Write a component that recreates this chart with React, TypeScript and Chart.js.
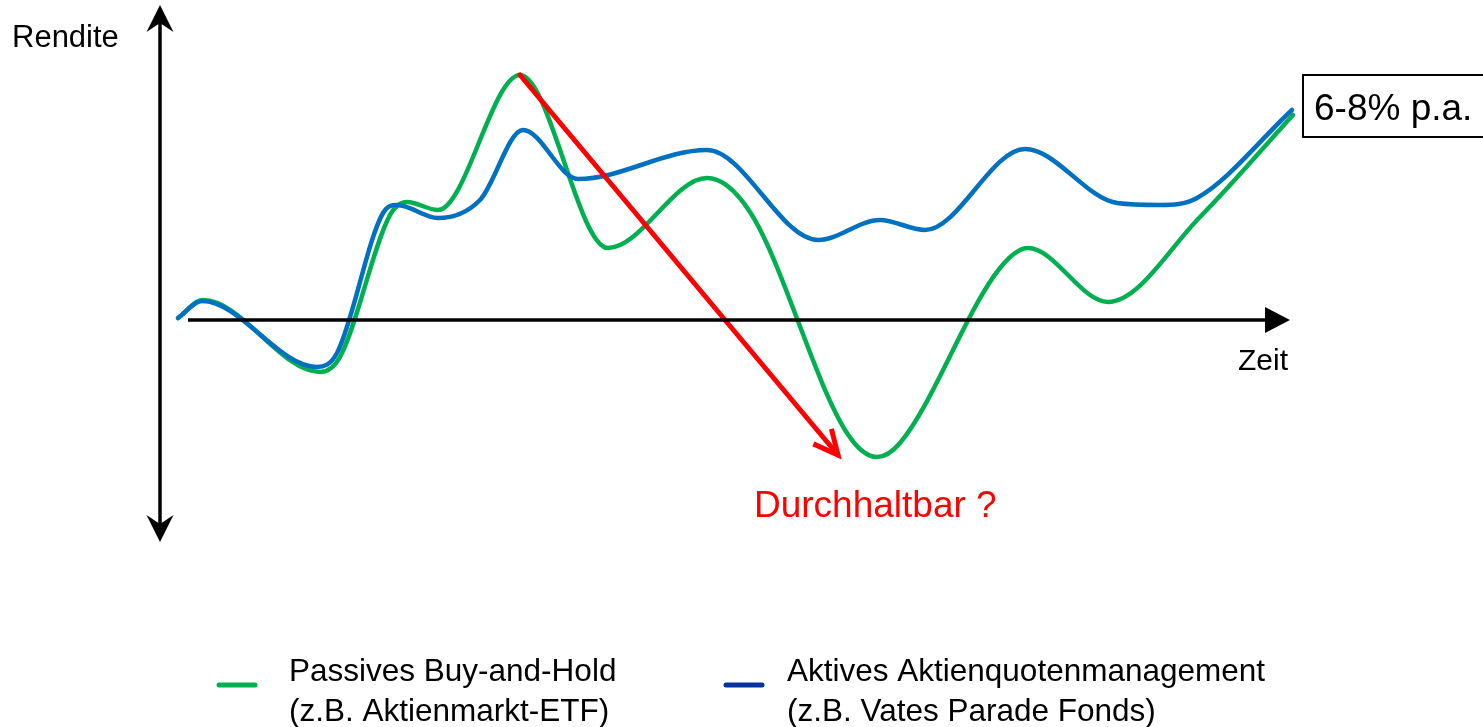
import React, { useEffect, useRef } from "react";
import { Chart, registerables } from "chart.js";

Chart.register(...registerables);

// ---- data (time and Rendite in arbitrary schematic units) ----
const timeGreen = [1.8, 4.3, 16.0, 18.0, 23.0, 24.7, 27.8, 36.0, 44.8, 54.7, 59.0, 68.7, 71.7, 74.0, 84.0, 86.8, 94.8, 104.0, 113.3];
const renditeGreen = [0.2, 2.0, -5.2, -3.7, 10.5, 11.8, 11.0, 24.5, 7.2, 14.2, 10.8, -11.3, -13.7, -12.3, 5.2, 7.2, 1.8, 10.3, 20.5];

const timeBlue = [1.8, 4.2, 15.7, 17.7, 22.3, 23.7, 27.8, 32.0, 36.3, 41.8, 54.7, 65.8, 72.0, 76.5, 86.5, 95.7, 100.0, 103.7, 113.2];
const renditeBlue = [0.2, 1.9, -4.7, -3.3, 10.7, 11.5, 10.2, 12.0, 19.0, 14.1, 17.0, 8.0, 10.0, 9.0, 17.1, 11.7, 11.5, 12.2, 21.0];

const timeDrawdown = [36, 67.8];
const renditeDrawdown = [24.5, -13.5];

const seriesNames = ["Passives Buy-and-Hold", "Aktives Aktienquotenmanagement"];
const seriesSubNames = ["(z.B. Aktienmarkt-ETF)", "(z.B. Vates Parade Fonds)"];
const yAxisTitle = "Rendite";
const xAxisTitle = "Zeit";
const drawdownLabel = "Durchhaltbar ?";
const targetLabel = "6-8% p.a.";

const X_MIN = 0;
const X_MAX = 114;
const Y_MIN = -22;
const Y_MAX = 31.5;
const X_AXIS_START = 2.8;
const X_AXIS_END = 113;

const GREEN = "#00B050";
const BLUE = "#0070C0";
const LEGEND_BLUE = "#0033A0";
const RED = "#FF0000";
const FONT = "'Liberation Sans', Arial, Helvetica, sans-serif";

const toPoints = (xs: number[], ys: number[]) => xs.map((x, i) => ({ x, y: ys[i] }));

function stealth(ctx: CanvasRenderingContext2D, tx: number, ty: number, dx: number, dy: number, L: number, W: number, N: number) {
  const nx = -dy;
  const ny = dx;
  ctx.beginPath();
  ctx.moveTo(tx, ty);
  ctx.lineTo(tx - dx * L + nx * W, ty - dy * L + ny * W);
  ctx.lineTo(tx - dx * (L - N), ty - dy * (L - N));
  ctx.lineTo(tx - dx * L - nx * W, ty - dy * L - ny * W);
  ctx.closePath();
  ctx.fill();
}

const decorPlugin = {
  id: "decor",
  afterDatasetsDraw(chart: any) {
    const ctx: CanvasRenderingContext2D = chart.ctx;
    const xs = chart.scales.x;
    const ys = chart.scales.y;
    const area = chart.chartArea;
    const x0 = xs.getPixelForValue(0);
    const y0 = ys.getPixelForValue(0);

    ctx.save();
    // red arrowhead
    const meta = chart.getDatasetMeta(0);
    const p0 = meta.data[0];
    const p1 = meta.data[1];
    const ang = Math.atan2(p1.y - p0.y, p1.x - p0.x);
    ctx.strokeStyle = RED;
    ctx.lineWidth = 5;
    ctx.lineJoin = "miter";
    ctx.lineCap = "butt";
    const armL = 27;
    const spread = 0.45;
    ctx.beginPath();
    ctx.moveTo(p1.x - armL * Math.cos(ang - spread), p1.y - armL * Math.sin(ang - spread));
    ctx.lineTo(p1.x, p1.y);
    ctx.lineTo(p1.x - armL * Math.cos(ang + spread), p1.y - armL * Math.sin(ang + spread));
    ctx.stroke();

    // axes
    ctx.strokeStyle = "#000";
    ctx.fillStyle = "#000";
    ctx.lineWidth = 3.5;
    ctx.lineCap = "butt";
    const yTop = area.top;
    const yBot = area.bottom + 2;
    ctx.beginPath();
    ctx.moveTo(x0, yTop + 15);
    ctx.lineTo(x0, yBot - 15);
    ctx.stroke();
    stealth(ctx, x0, yTop, 0, -1, 27, 13.5, 9);
    stealth(ctx, x0, yBot, 0, 1, 27, 13.5, 9);
    const xStart = xs.getPixelForValue(X_AXIS_START);
    const xEnd = xs.getPixelForValue(X_AXIS_END);
    ctx.beginPath();
    ctx.moveTo(xStart, y0);
    ctx.lineTo(xEnd - 20, y0);
    ctx.stroke();
    ctx.beginPath();
    ctx.moveTo(xEnd, y0);
    ctx.lineTo(xEnd - 25, y0 - 13);
    ctx.lineTo(xEnd - 25, y0 + 13);
    ctx.closePath();
    ctx.fill();

    // axis titles
    ctx.textBaseline = "alphabetic";
    ctx.font = `31px ${FONT}`;
    ctx.textAlign = "left";
    ctx.fillText(yAxisTitle, 12, 47);
    ctx.font = `30px ${FONT}`;
    ctx.textAlign = "right";
    ctx.fillText(xAxisTitle, xEnd - 2, 370);

    // drawdown label
    ctx.fillStyle = RED;
    ctx.textAlign = "left";
    ctx.font = `37px ${FONT}`;
    ctx.fillText(drawdownLabel, 754, 517);

    // target box
    ctx.fillStyle = "#fff";
    ctx.fillRect(1303, 75, 200, 62);
    ctx.strokeStyle = "#000";
    ctx.lineWidth = 2;
    ctx.strokeRect(1303, 75, 200, 62);
    ctx.fillStyle = "#000";
    ctx.font = `37px ${FONT}`;
    ctx.fillText(targetLabel, 1314, 120);

    // legend
    const legendColors = [GREEN, LEGEND_BLUE];
    const legendLineX = [217, 724];
    const legendTextX = [289, 787];
    ctx.font = `31.5px ${FONT}`;
    for (let i = 0; i < 2; i++) {
      ctx.strokeStyle = legendColors[i];
      ctx.lineWidth = 5;
      ctx.lineCap = "round";
      ctx.beginPath();
      ctx.moveTo(legendLineX[i] + 2, 685);
      ctx.lineTo(legendLineX[i] + 38, 685);
      ctx.stroke();
      ctx.fillStyle = "#000";
      ctx.fillText(seriesNames[i], legendTextX[i], 681);
      ctx.fillText(seriesSubNames[i], legendTextX[i], 721);
    }
    ctx.restore();
  },
};

export default function App() {
  const canvasRef = useRef<HTMLCanvasElement | null>(null);

  useEffect(() => {
    const canvas = canvasRef.current;
    if (!canvas) return;
    const chart = new Chart(canvas, {
      type: "line",
      data: {
        datasets: [
          {
            label: "Drawdown",
            data: toPoints(timeDrawdown, renditeDrawdown),
            borderColor: RED,
            borderWidth: 5,
            pointRadius: 0,
            tension: 0,
            borderCapStyle: "round",
            clip: false,
          },
          {
            label: seriesNames[1],
            data: toPoints(timeBlue, renditeBlue),
            borderColor: BLUE,
            borderWidth: 4.5,
            pointRadius: 0,
            cubicInterpolationMode: "monotone",
            borderCapStyle: "round",
            clip: false,
          },
          {
            label: seriesNames[0],
            data: toPoints(timeGreen, renditeGreen),
            borderColor: GREEN,
            borderWidth: 4.5,
            pointRadius: 0,
            cubicInterpolationMode: "monotone",
            borderCapStyle: "round",
            clip: false,
          },
        ],
      },
      options: {
        responsive: false,
        animation: false,
        devicePixelRatio: 1,
        layout: { padding: { left: 160, right: 183, top: 5, bottom: 187 } },
        plugins: { legend: { display: false }, tooltip: { enabled: false }, title: { display: false } },
        events: [],
        scales: {
          x: { type: "linear", min: X_MIN, max: X_MAX, display: false },
          y: { type: "linear", min: Y_MIN, max: Y_MAX, display: false },
        },
      },
      plugins: [decorPlugin],
    } as any);
    return () => chart.destroy();
  }, []);

  return (
    <div style={{ position: "fixed", left: 0, top: 0, width: 1483, height: 727, background: "#fff" }}>
      <canvas ref={canvasRef} width={1483} height={727} style={{ display: "block" }} />
    </div>
  );
}
